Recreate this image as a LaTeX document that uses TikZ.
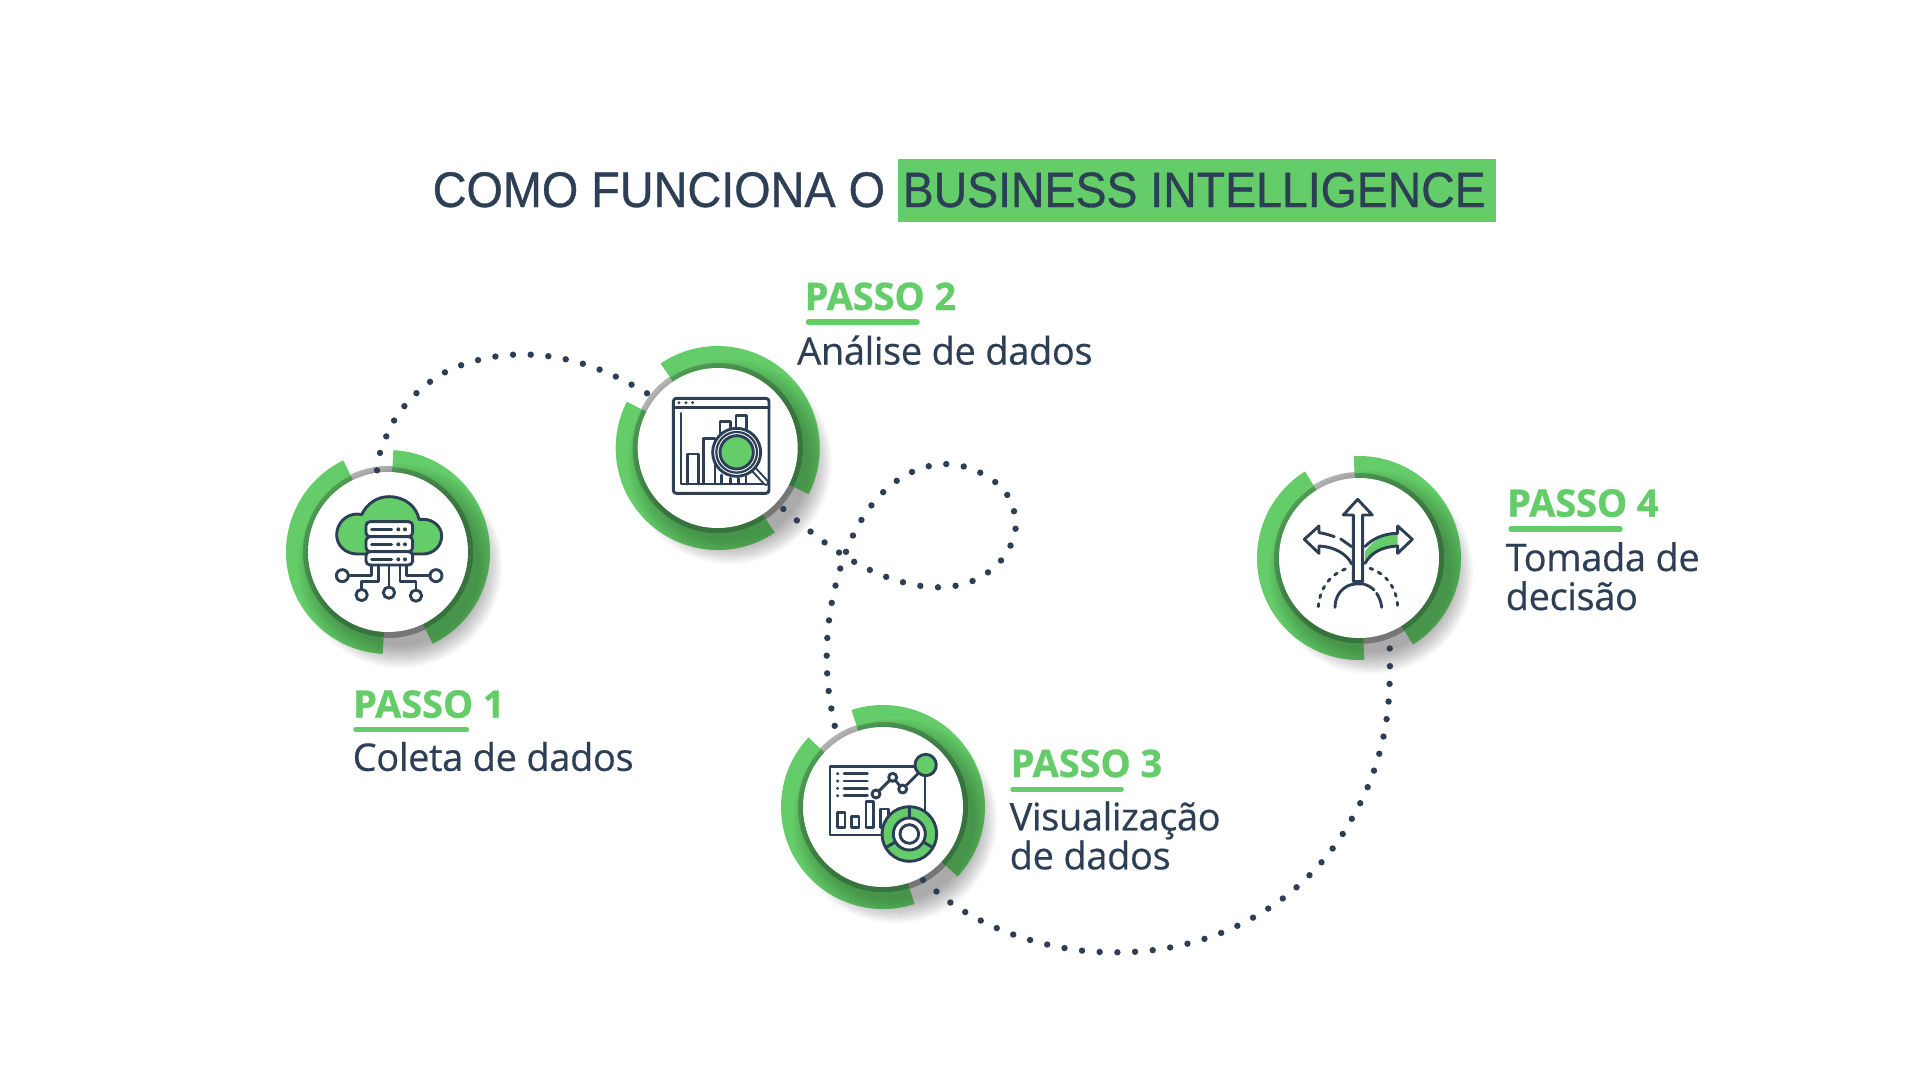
\documentclass[tikz,border=0pt]{standalone}
\usepackage{fontspec}
\setmainfont{Liberation Sans}
\newfontfamily\titlefont[FakeStretch=0.936,FakeBold=0.7]{Liberation Sans}
\newfontfamily\stepfont[LetterSpace=-1.0,FakeBold=0.5]{Open Sans}
\newfontfamily\stephead[LetterSpace=-0.2,FakeBold=0.8]{Open Sans Bold}
\definecolor{ink}{HTML}{2D3F55}
\definecolor{leaf}{HTML}{64CC69}
\definecolor{leafd}{HTML}{4F9F55}
\definecolor{ringgray}{HTML}{B4B4B4}
\tikzset{
  titletext/.style={anchor=base west,inner sep=0pt,text=ink,font=\titlefont\fontsize{50}{54}\selectfont},
  titlehi/.style={anchor=base west,inner sep=0pt,text=ink,font=\titlefont\fontsize{49.6}{54}\selectfont},
  steptitle/.style={anchor=base west,inner sep=0pt,text=leaf,font=\stephead\fontsize{38}{40}\selectfont},
  steptext/.style={anchor=base west,inner sep=0pt,text=ink,align=left,font=\stepfont\fontsize{38}{39}\selectfont},
  rule/.style={draw=leaf,line width=5.5pt,line cap=round},
  dots/.style={draw=ink,line width=6.4pt,line cap=round,dash pattern=on 0pt off 17.7pt},
  ico/.style={draw=ink,line width=2.9pt,line join=round,line cap=round},
  zoomed/.style={x=0.3333pt,y=-0.3333pt},
  hub/.style={circle,inner sep=0pt,minimum size=160pt,fill=white}
}
\newcommand{\sector}[4]{(#1:#4) arc[start angle=#1,end angle=#2,radius=#4] -- (#2:#3) arc[start angle=#2,end angle=#1,radius=#3] -- cycle}
\newcommand{\castshadow}[1]{\foreach \r in {80,82,...,102}{\fill[black,opacity=#1] (12,14) circle[radius=\r];}}
\newcommand{\stepring}[4]{% name, x, y, rotation
  \begin{scope}[shift={(#2,#3)}]
    \pgfmathsetmacro{\aa}{-87-#4}\pgfmathsetmacro{\ab}{64-#4}
    \pgfmathsetmacro{\ba}{-116-#4}\pgfmathsetmacro{\bb}{-267-#4}
    \fill[ringgray] (0,0) circle[radius=86];
    \castshadow{0.03}
    \fill[leaf] \sector{\aa}{\ab}{85}{102};
    \fill[leaf] \sector{\ba}{\bb}{85}{102};
    \fill[leafd] \sector{\aa}{\ab}{78}{85};
    \fill[leafd] \sector{\ba}{\bb}{78}{85};
    \begin{scope}\clip \sector{\aa}{\ab}{78}{102}; \castshadow{0.022}\end{scope}
    \begin{scope}\clip \sector{\ba}{\bb}{78}{102}; \castshadow{0.022}\end{scope}
    \node[hub] (#1) at (0,0) {};
  \end{scope}}
\begin{document}
\begin{tikzpicture}[x=1pt,y=-1pt]
\fill[white] (0,0) rectangle (1920,1080);
\useasboundingbox (0,0) rectangle (1920,1080);

% title
\node[fill=leaf,inner sep=0pt,minimum width=598.5pt,minimum height=63pt] (band) at (1196.8,190.5) {};
\node[titletext] (t1) at (432.5,207) {COMO FUNCIONA O};
\node[titlehi] (t2) at (902.5,207) {BUSINESS INTELLIGENCE};

% rings
\stepring{c1}{388}{552}{0}
\stepring{c2}{717.7}{448}{37}
\stepring{c3}{883}{807}{21}
\stepring{c4}{1359}{558}{6}

% icon 1
\begin{scope}[shift={(270,430)},zoomed]
  \draw[ico,fill=leaf] (290,372) -- (262,372) .. controls (225,372) and (200,345) .. (200,315) .. controls (200,280) and (228,252) .. (262,252) -- (275,254) .. controls (290,222) and (320,200) .. (357,200) .. controls (405,200) and (440,230) .. (447,268) -- (460,268) .. controls (490,268) and (515,290) .. (515,318) .. controls (515,348) and (490,372) .. (460,372) -- (428,372);
  \foreach \y/\h in {275/45,320/45,365/40}{
    \draw[ico,fill=white,rounded corners=4pt] (288,\y) rectangle (428,\y+\h);
    \draw[ico] (305,\y+23) -- (365,\y+23);
    \fill[ink] (385,\y+23) circle[radius=6] (405,\y+23) circle[radius=6];
  }
  \draw[ico] (357,405) -- (357,470);
  \draw[ico] (325,405) -- (325,455) -- (275,455) -- (275,478);
  \draw[ico] (390,405) -- (390,455) -- (438,455) -- (438,478);
  \draw[ico] (305,405) -- (305,437) -- (235,437);
  \draw[ico] (410,405) -- (410,437) -- (480,437);
  \draw[ico] (357,488) circle[radius=17] (275,495) circle[radius=17] (438,497) circle[radius=17] (217,437) circle[radius=18] (498,437) circle[radius=18];
\end{scope}

% icon 2
\begin{scope}[shift={(600,330)},zoomed]
  \draw[ico,rounded corners=3pt] (220,205) rectangle (507,490);
  \draw[ico] (220,232) -- (507,232);
  \fill[ink] (237,218) circle[radius=5] (258,218) circle[radius=5] (278,218) circle[radius=5];
  \draw[ico] (243,250) -- (243,462) -- (500,462);
  \draw[ico] (263,462) -- (263,372) -- (295,372) -- (295,462);
  \draw[ico] (310,462) -- (310,325) -- (345,325) -- (345,462);
  \draw[ico] (360,310) -- (360,275) -- (392,275) -- (392,300);
  \draw[ico] (408,295) -- (408,257) -- (440,257) -- (440,300);
  \draw[ico] (365,435) -- (365,462) (392,445) -- (392,462) (415,445) -- (415,462) (438,440) -- (438,462);
  \draw[ink,line width=6.5pt,line cap=round] (463,420) -- (498,458);
  \draw[white,line width=2.5pt,line cap=round] (463,420) -- (498,458);
  \draw[ico,fill=white] (410,367) circle[radius=72];
  \draw[ico,fill=leaf] (410,367) circle[radius=50];
  \draw[ink,line width=2.2pt] (410,367) circle[radius=61];
\end{scope}

% icon 3
\begin{scope}[shift={(770,690)},zoomed]
  \draw[ico] (440,230) -- (180,230) -- (180,435) -- (345,435);
  \draw[ico] (465,255) -- (465,365);
  \foreach \y in {251,273,295,317}{
    \fill[ink] (203,\y) circle[radius=5];
    \draw[ico] (222,\y) -- (292,\y);
  }
  \draw[ico] (318,312) -- (368,262) -- (398,297) -- (445,250);
  \draw[ico,fill=white] (318,312) circle[radius=12] (368,262) circle[radius=12] (398,297) circle[radius=12];
  \draw[ico,fill=leaf] (467,225) circle[radius=32];
  \draw[ico] (202,367) rectangle (225,413) (245,380) rectangle (267,413) (288,335) rectangle (310,413) (332,357) rectangle (355,413);
  \draw[ico,fill=leaf] (418,432) circle[radius=82];
  \draw[ico,fill=white] (418,432) circle[radius=48];
  \draw[ico] (418,432) circle[radius=28];
  \draw[ico] (418,350) -- (418,384) (347,473) -- (376,456) (489,473) -- (460,456);
\end{scope}

% icon 4
\begin{scope}[shift={(1250,440)},zoomed]
  \draw[ico] (310,425) -- (310,225) -- (280,225) -- (323,178) -- (367,225) -- (338,225) -- (338,425) -- cycle;
  \draw[ico] (255,502) .. controls (255,465) and (280,435) .. (315,432) -- (340,432) .. controls (352,435) and (365,442) .. (372,450);
  \draw[ico] (380,460) .. controls (388,472) and (394,488) .. (395,502);
  \draw[ico,dash pattern=on 3pt off 6.2pt] (205,500) .. controls (210,440) and (245,400) .. (292,385);
  \draw[ico,dash pattern=on 3pt off 6.2pt] (360,385) .. controls (405,400) and (440,440) .. (443,500);
  % left branch
  \draw[ico] (253,290) .. controls (240,286) and (225,280) .. (207,278) -- (207,258) -- (163,298) -- (207,340) -- (207,318) .. controls (250,320) and (290,340) .. (305,372);
  \draw[ico] (272,297) -- (305,320);
  % right branch
  \fill[leaf] (345,335) .. controls (365,305) and (400,280) .. (443,280) -- (443,318) .. controls (400,320) and (365,335) .. (345,370) -- cycle;
  \draw[ico] (345,320) .. controls (365,298) and (400,280) .. (443,280) -- (443,258) -- (487,298) -- (443,340) -- (443,318) .. controls (400,320) and (365,335) .. (345,370);
\end{scope}

% connectors
\coordinate (p1a) at (377,470.3);
\coordinate (p1b) at (648.3,394);
\coordinate (p2a) at (783.3,509);
\coordinate (p2b) at (835.3,728.7);
\coordinate (p3a) at (923,880);
\coordinate (p3b) at (1389.7,645);
\draw[dots] plot[smooth,tension=0.6] coordinates {(p1a) (380,453) (394,420.7) (416.3,393.3) (445,372.3) (478.3,360) (513.3,354.7) (549,356.3) (583.7,364) (616.7,377) (p1b)};
\draw[dots] plot[smooth,tension=0.6] coordinates {(p2a) (810.7,531.7) (839.3,552.7) (870,570) (903.3,582.3) (938.7,587.3) (973.3,580.7) (1001.7,559.7) (1015.7,527.7) (1006.7,494) (979,472) (944.7,464) (910.3,472.7) (882,493.3) (860.3,521.7) (845.3,553.7) (835,587.7) (828.7,622.7) (826.7,658.3) (829,693.7) (p2b)};
\draw[dots] plot[smooth,tension=0.6] coordinates {(p3a) (950.7,902.7) (981,920.7) (1013.7,934.7) (1048,944.7) (1082.7,950.7) (1118.7,952.3) (1154,950) (1189,943.3) (1222.7,932.3) (1254.7,916.7) (1284.3,897.3) (1311,873.7) (1334,846.7) (1353,816.7) (1368.7,784.7) (1380,751) (1387,716.3) (1389.7,680.7) (p3b)};

% step labels
\node[steptitle] (h1) at (353,717.7) {PASSO 1};
\draw[rule] (356,729.3) -- (466.5,729.3);
\node[steptext] (b1) at (352.5,770.8) {Coleta de dados};

\node[steptitle] (h2) at (804.5,310) {PASSO 2};
\draw[rule] (808.5,322) -- (917,322);
\node[steptext] (b2) at (797,364.5) {Análise de dados};

\node[steptitle] (h3) at (1010.5,777) {PASSO 3};
\draw[rule] (1013,789.3) -- (1121,789.3);
\node[steptext] (b3) at (1009.5,869.3) {Visualização\\de dados};

\node[steptitle] (h4) at (1507,516.7) {PASSO 4};
\draw[rule] (1511,529) -- (1620,529);
\node[steptext] (b4) at (1505.5,610) {Tomada de\\decisão};
\end{tikzpicture}
\end{document}
